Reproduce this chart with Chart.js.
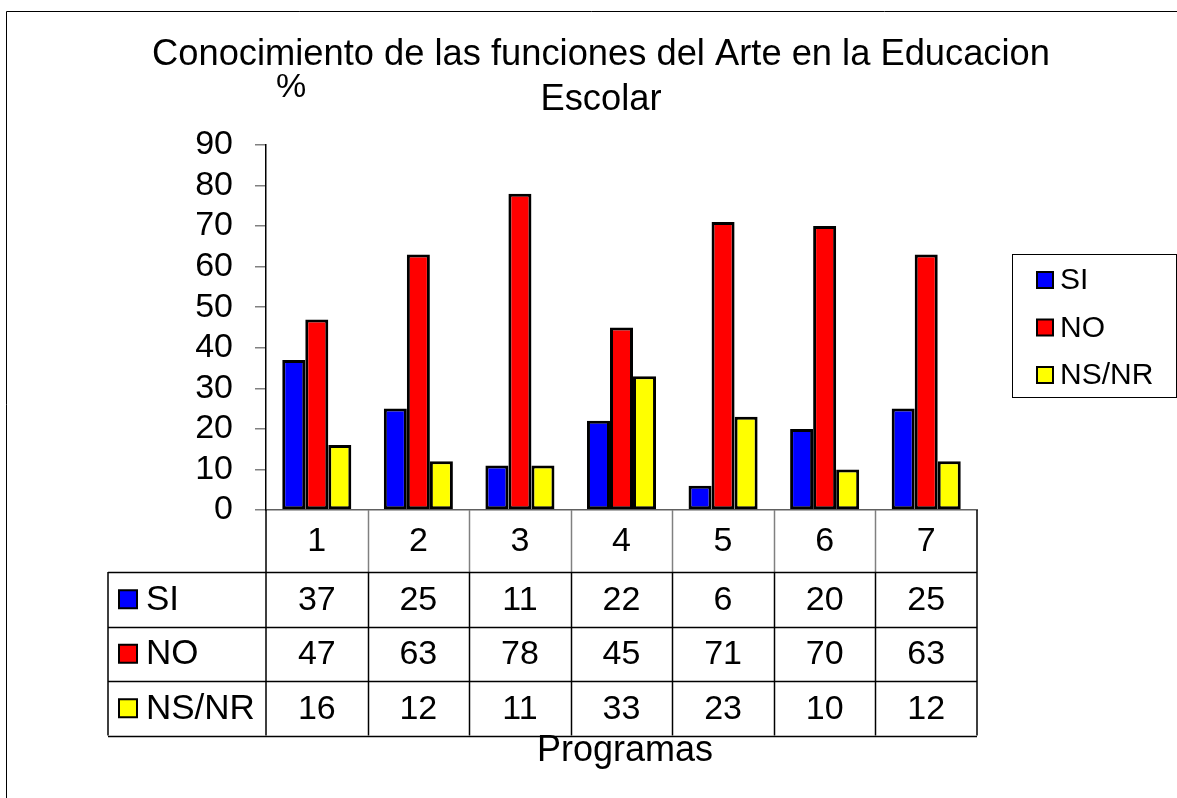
<!DOCTYPE html>
<html>
<head>
<meta charset="utf-8">
<script src="https://cdn.jsdelivr.net/npm/chart.js@4"></script>
<style>
    html, body { margin: 0; padding: 0; background: #fff; }
    #wrap { width: 1177px; height: 798px; }
</style>
</head>
<body>
<div id="wrap"><canvas id="chart"></canvas></div>
<script>
const programas = ['1', '2', '3', '4', '5', '6', '7']
const si = [37, 25, 11, 22, 6, 20, 25]
const no = [47, 63, 78, 45, 71, 70, 63]
const nsnr = [16, 12, 11, 33, 23, 10, 12]
const seriesNames = ['SI', 'NO', 'NS/NR']
const seriesColors = ['#0000ff', '#ff0000', '#ffff00']
const titleLines = ['Conocimiento de las funciones del Arte en la Educacion', 'Escolar']
const yTitle = '%'
const xTitle = 'Programas'

const FONT = '"Liberation Sans", Arial, sans-serif'
const seriesData = [si, no, nsnr]

// header row + rows of the data table below the plot
const headerH = 62
const rowH = 54.5

const decor = {
    id: 'decor',
    afterDraw(chart) {
        const c = chart.ctx
        const area = chart.chartArea
        const x = chart.scales.x
        const half = (x.getPixelForValue(1) - x.getPixelForValue(0)) / 2
        c.save()

        // outer frame
        c.strokeStyle = '#000'
        c.lineWidth = 1
        c.beginPath()
        c.moveTo(6.5, 798)
        c.lineTo(6.5, 11.5)
        c.lineTo(1177, 11.5)
        c.stroke()

        // title
        c.fillStyle = '#000'
        c.textAlign = 'center'
        c.textBaseline = 'middle'
        c.font = '36.3px ' + FONT
        c.fillText(titleLines[0], 601, 55)
        c.fillText(titleLines[1], 601, 100)
        c.font = '34px ' + FONT
        c.fillText(yTitle, 291, 88)

        // legend
        c.lineWidth = 1
        c.strokeStyle = '#000'
        c.strokeRect(1012.5, 254.5, 164, 143)
        c.font = '30px ' + FONT
        c.textAlign = 'left'
        seriesNames.forEach((name, i) => {
            const cy = 280 + i * 47.5
            c.fillStyle = seriesColors[i]
            c.fillRect(1037, cy - 8, 16, 16)
            c.lineWidth = 2
            c.strokeRect(1037, cy - 8, 16, 16)
            c.fillStyle = '#000'
            c.fillText(name, 1060, cy + 1)
        })

        // data table
        const top = area.bottom
        const left = area.left
        const right = area.right
        const labelLeft = 108
        const tBottom = top + headerH + rowH * 3

        c.font = '34px ' + FONT
        c.textAlign = 'center'
        programas.forEach((p, i) => {
            c.fillText(p, x.getPixelForValue(i), top + headerH / 2 + 1)
        })

        // vertical separators in header row (gray)
        c.strokeStyle = '#808080'
        c.lineWidth = 1.5
        for (let i = 1; i < programas.length; i++) {
            const px = Math.round(x.getPixelForValue(i) - half) + 0.5
            c.beginPath()
            c.moveTo(px, top)
            c.lineTo(px, top + headerH)
            c.stroke()
        }

        c.strokeStyle = '#000'
        c.lineWidth = 1.5
        // column lines in the value rows
        for (let i = 1; i < programas.length; i++) {
            const px = Math.round(x.getPixelForValue(i) - half) + 0.5
            c.beginPath()
            c.moveTo(px, top + headerH)
            c.lineTo(px, tBottom)
            c.stroke()
        }
        // left & right borders
        c.beginPath()
        c.moveTo(left, top)
        c.lineTo(left, tBottom)
        c.moveTo(right, top)
        c.lineTo(right, tBottom)
        c.moveTo(labelLeft, top + headerH)
        c.lineTo(labelLeft, tBottom)
        c.stroke()
        // horizontal lines
        for (let r = 0; r <= 3; r++) {
            const py = Math.round(top + headerH + r * rowH) + 0.5
            c.beginPath()
            c.moveTo(labelLeft, py)
            c.lineTo(right, py)
            c.stroke()
        }

        // rows
        seriesNames.forEach((name, r) => {
            const cy = top + headerH + r * rowH + rowH / 2
            c.fillStyle = seriesColors[r]
            c.fillRect(119, cy - 9, 18, 18)
            c.lineWidth = 2
            c.strokeStyle = '#000'
            c.strokeRect(119, cy - 9, 18, 18)
            c.fillStyle = '#000'
            c.textAlign = 'left'
            c.font = '35px ' + FONT
            c.fillText(name, 146, cy + 1)
            c.textAlign = 'center'
            c.font = '34px ' + FONT
            seriesData[r].forEach((v, i) => {
                c.fillText(String(v), x.getPixelForValue(i), cy + 1)
            })
        })

        // x title
        c.font = '36px ' + FONT
        c.fillText(xTitle, 625, 751)

        c.restore()
    }
}

const ctx = document.getElementById('chart')

new Chart(ctx, {
    type: 'bar',
    data: {
        labels: programas,
        datasets: seriesNames.map((name, i) => ({
            label: name,
            data: seriesData[i],
            backgroundColor: seriesColors[i],
            borderColor: '#000',
            borderWidth: 3,
            borderSkipped: false,
            categoryPercentage: 0.68,
            barPercentage: 1.0
        }))
    },
    options: {
        responsive: true,
        maintainAspectRatio: false,
        animation: false,
        layout: {
            padding: { left: 0, top: 145, right: 200, bottom: 288 }
        },
        scales: {
            x: {
                ticks: { display: false },
                grid: { display: false },
                border: { display: true, color: '#606060', width: 1.5 },
                afterFit: (scale) => { scale.height = 0 }
            },
            y: {
                min: 0,
                max: 90,
                ticks: {
                    stepSize: 10,
                    autoSkip: false,
                    color: '#000',
                    padding: 22,
                    font: { family: FONT, size: 34 }
                },
                grid: {
                    drawOnChartArea: false,
                    drawTicks: true,
                    tickLength: 11,
                    color: '#808080',
                    lineWidth: 1.5
                },
                border: { display: true, color: '#000', width: 1.5 },
                afterFit: (scale) => { scale.width = 266 }
            }
        },
        plugins: {
            legend: { display: false },
            title: { display: false },
            tooltip: { enabled: false }
        }
    },
    plugins: [decor]
})
</script>
</body>
</html>
